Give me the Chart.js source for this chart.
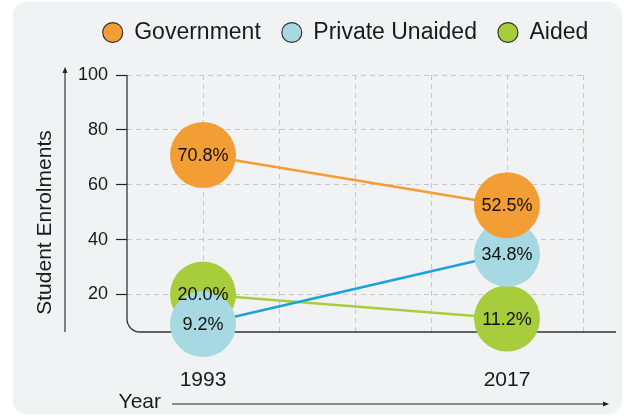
<!DOCTYPE html>
<html lang="en">
<head>
  <meta charset="UTF-8">
  <title>Student Enrolments</title>
  <script src="https://cdn.jsdelivr.net/npm/chart.js"></script>
  <style>
    body {
      margin: 0;
      background: #fff;
      font-family: 'Liberation Sans', Arial, sans-serif;
    }
    .frame {
      position: relative;
      width: 624px;
      height: 416px;
    }
    .panel {
      position: absolute;
      left: 13px;
      top: 2px;
      width: 609px;
      height: 412px;
      background: #f1f2f4;
      border-radius: 13px;
    }
    #chart {
      position: absolute;
      left: 0;
      top: 0;
    }
  </style>
</head>
<body>
  <div class="frame">
    <div class="panel"></div>
    <canvas id="chart" width="624" height="416"></canvas>
  </div>

  <script>
    const years = [1993, 2017];
    const government = [70.8, 52.5];
    const privateUnaided = [9.2, 34.8];
    const aided = [20.0, 11.2];
    const seriesNames = ['Government', 'Private Unaided', 'Aided'];
    const yTicks = [20, 40, 60, 80, 100];
    const xGridYears = [1993, 1999, 2005, 2011, 2017, 2023];

    const circleColors = ['#f39e34', '#a7d9e2', '#a8cd3c'];
    const lineColors = ['#f39e34', '#1aa2d9', '#a8cd3c'];
    const ink = '#1a1a1a';

    Chart.defaults.font.family = "'Liberation Sans', Arial, sans-serif";
    Chart.defaults.color = ink;

    const toPoints = vals => years.map((yr, i) => ({ x: yr, y: vals[i] }));

    function makeSet(i, vals) {
      return {
        label: seriesNames[i],
        data: toPoints(vals),
        borderColor: lineColors[i],
        backgroundColor: circleColors[i],
        borderWidth: 2.5,
        pointRadius: 33,
        pointHoverRadius: 33,
        pointBorderWidth: 0,
        pointBackgroundColor: circleColors[i],
        fill: false,
        clip: false,
      };
    }

    // axis lines with the rounded corner, arrows and titles
    const axesDecor = {
      id: 'axesDecor',
      beforeDatasetsDraw(chart) {
        const { ctx, chartArea: a } = chart;
        const r = 13;
        ctx.save();
        ctx.strokeStyle = '#333';
        ctx.lineWidth = 1.3;
        ctx.beginPath();
        ctx.moveTo(a.left, a.top);
        ctx.lineTo(a.left, a.bottom - r);
        ctx.arcTo(a.left, a.bottom, a.left + r, a.bottom, r);
        ctx.lineTo(a.right + 33, a.bottom);
        ctx.stroke();
        ctx.restore();
      },
      afterDraw(chart) {
        const { ctx, chartArea: a } = chart;
        ctx.save();
        ctx.strokeStyle = '#222';
        ctx.fillStyle = '#222';
        ctx.lineWidth = 1.1;

        // y arrow
        const ax = a.left - 62;
        ctx.beginPath();
        ctx.moveTo(ax, a.bottom);
        ctx.lineTo(ax, a.top - 6);
        ctx.stroke();
        ctx.beginPath();
        ctx.moveTo(ax, a.top - 8);
        ctx.lineTo(ax - 2.5, a.top - 2);
        ctx.lineTo(ax + 2.5, a.top - 2);
        ctx.closePath();
        ctx.fill();

        // x arrow
        const ay = a.bottom + 72;
        ctx.beginPath();
        ctx.moveTo(a.left + 45, ay);
        ctx.lineTo(a.right + 23, ay);
        ctx.stroke();
        ctx.beginPath();
        ctx.moveTo(a.right + 26, ay);
        ctx.lineTo(a.right + 20, ay - 2.5);
        ctx.lineTo(a.right + 20, ay + 2.5);
        ctx.closePath();
        ctx.fill();

        // titles
        ctx.fillStyle = ink;
        ctx.font = "21px 'Liberation Sans', Arial, sans-serif";
        ctx.textAlign = 'right';
        ctx.textBaseline = 'middle';
        ctx.fillText('Year', a.left + 34, ay - 2);

        ctx.translate(a.left - 82, (a.top + a.bottom) / 2 + 19);
        ctx.rotate(-Math.PI / 2);
        ctx.textAlign = 'center';
        ctx.fillText('Student Enrolments', 0, 0);
        ctx.restore();
      },
    };

    // percentage text inside each circle
    const circleLabels = {
      id: 'circleLabels',
      afterDatasetsDraw(chart) {
        const { ctx } = chart;
        ctx.save();
        ctx.fillStyle = '#111';
        ctx.font = "18px 'Liberation Sans', Arial, sans-serif";
        ctx.textAlign = 'center';
        ctx.textBaseline = 'middle';
        chart.data.datasets.forEach((ds, di) => {
          chart.getDatasetMeta(di).data.forEach((pt, j) => {
            ctx.fillText(ds.data[j].y.toFixed(1) + '%', pt.x, pt.y + 1);
          });
        });
        ctx.restore();
      },
    };

    // nudge the legend so it sits where the original one does
    const legendShift = {
      id: 'legendShift',
      afterLayout(chart) {
        const lg = chart.legend;
        lg.left += 54;
        lg.right += 54;
        lg.top -= 21;
        lg.bottom -= 21;
      },
    };

    new Chart(document.getElementById('chart'), {
      type: 'line',
      data: {
        datasets: [
          makeSet(0, government),
          makeSet(1, privateUnaided),
          makeSet(2, aided),
        ],
      },
      options: {
        responsive: false,
        animation: false,
        layout: { padding: { left: 0, right: 41, top: 21, bottom: 0 } },
        plugins: {
          tooltip: { enabled: false },
          legend: {
            position: 'top',
            labels: {
              usePointStyle: true,
              boxWidth: 20,
              boxHeight: 14.1,
              padding: 21,
              color: ink,
              font: { size: 23 },
              generateLabels(chart) {
                const items = Chart.defaults.plugins.legend.labels.generateLabels(chart);
                items.forEach((it, i) => {
                  it.fillStyle = circleColors[i];
                  it.strokeStyle = '#333';
                  it.lineWidth = 1.2;
                  it.pointStyle = 'circle';
                });
                return items;
              },
            },
          },
        },
        scales: {
          x: {
            type: 'linear',
            min: 1987,
            max: 2023,
            afterBuildTicks: s => { s.ticks = xGridYears.map(v => ({ value: v })); },
            afterFit: s => { s.height = 84; },
            ticks: {
              autoSkip: false,
              maxRotation: 0,
              padding: 36,
              font: { size: 21 },
              color: ink,
              callback: v => (years.includes(v) ? String(v) : ''),
            },
            grid: { color: '#c6c8cc', lineWidth: 1, drawTicks: false },
            border: { display: false, dash: [5, 4] },
          },
          y: {
            min: 6.3,
            max: 100,
            afterBuildTicks: s => { s.ticks = yTicks.map(v => ({ value: v })); },
            afterFit: s => { s.width = 127; },
            ticks: { padding: 8, font: { size: 18 }, color: ink },
            grid: {
              color: '#c6c8cc',
              lineWidth: 1,
              tickColor: '#222',
              tickLength: 11,
              tickWidth: 1.2,
              tickBorderDash: [],
            },
            border: { display: false, dash: [5, 4] },
          },
        },
      },
      plugins: [axesDecor, circleLabels, legendShift],
    });
  </script>
</body>
</html>
